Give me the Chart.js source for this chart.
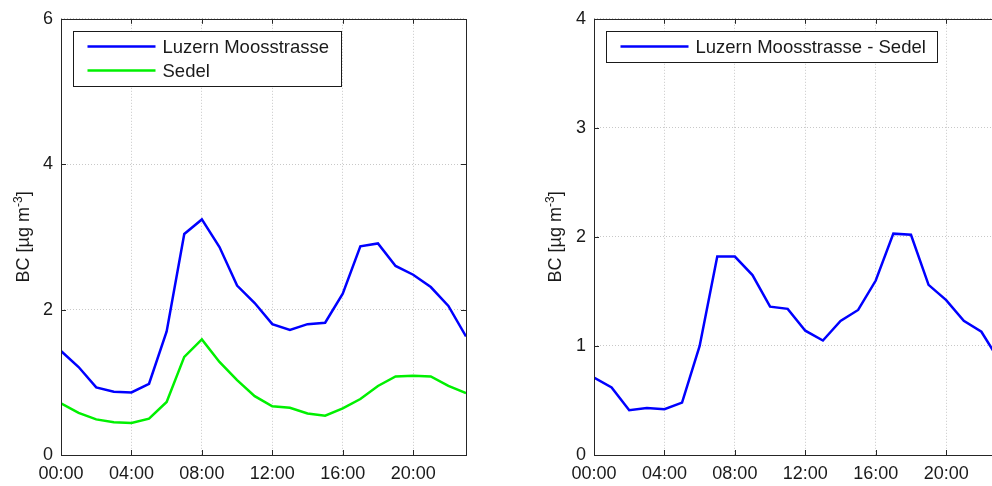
<!DOCTYPE html>
<html>
<head>
<meta charset="utf-8">
<script src="https://cdn.jsdelivr.net/npm/chart.js@4.4.1/dist/chart.umd.min.js"></script>
<style>
  html, body { margin: 0; padding: 0; background: #fff; overflow: hidden; }
  body { width: 992px; height: 486px; position: relative; }
  canvas { position: absolute; top: 0; }
  #left { left: 0; }
  #right { left: 540px; }
</style>
</head>
<body>
<canvas id="left" width="480" height="486"></canvas>
<canvas id="right" width="480" height="486"></canvas>
<script>
// hour of day
const hours = [0, 1, 2, 3, 4, 5, 6, 7, 8, 9, 10, 11, 12, 13, 14, 15, 16, 17, 18, 19, 20, 21, 22, 23];
// mean diurnal BC, µg m-3
const luzern = [1.43, 1.21, 0.93, 0.87, 0.86, 0.98, 1.70, 3.04, 3.24, 2.86, 2.33, 2.09,
                1.80, 1.72, 1.80, 1.82, 2.22, 2.87, 2.91, 2.60, 2.48, 2.31, 2.05, 1.63];
const sedel = [0.71, 0.58, 0.49, 0.45, 0.44, 0.50, 0.73, 1.35, 1.59, 1.28, 1.03, 0.81,
               0.67, 0.65, 0.57, 0.54, 0.64, 0.77, 0.95, 1.08, 1.09, 1.08, 0.95, 0.85];
const diff = [0.71, 0.62, 0.41, 0.43, 0.42, 0.48, 1.00, 1.82, 1.82, 1.65, 1.36, 1.34,
              1.14, 1.05, 1.23, 1.33, 1.60, 2.03, 2.02, 1.56, 1.42, 1.23, 1.13, 0.87];

const FONT = '"Liberation Sans", Arial, sans-serif';
const TXT = '#1a1a1a';

function pts(vals) {
  return hours.map((h, i) => ({ x: h, y: vals[i] }));
}

function hh(v) {
  return String(v).padStart(2, '0') + ':00';
}

// box, inward ticks, legend and y title, drawn the matlab way
function framePlugin(titleX) {
  return {
    id: 'frame',
    afterDraw(chart) {
      const ctx = chart.ctx;
      const a = chart.chartArea;
      const xs = chart.scales.x, ys = chart.scales.y;
      ctx.save();
      ctx.strokeStyle = '#262626';
      ctx.lineWidth = 1;
      ctx.strokeRect(Math.round(a.left) + 0.5, Math.round(a.top) + 0.5,
                     Math.round(a.right - a.left), Math.round(a.bottom - a.top));
      // little ticks pointing in
      ctx.beginPath();
      xs.ticks.forEach(t => {
        const px = Math.round(xs.getPixelForValue(t.value)) + 0.5;
        ctx.moveTo(px, a.bottom); ctx.lineTo(px, a.bottom - 5);
        ctx.moveTo(px, a.top); ctx.lineTo(px, a.top + 5);
      });
      ys.ticks.forEach(t => {
        const py = Math.round(ys.getPixelForValue(t.value)) + 0.5;
        ctx.moveTo(a.left, py); ctx.lineTo(a.left + 5, py);
        ctx.moveTo(a.right, py); ctx.lineTo(a.right - 5, py);
      });
      ctx.stroke();

      // legend
      const sets = chart.data.datasets;
      ctx.font = '18.5px ' + FONT;
      const tw = Math.max(...sets.map(d => ctx.measureText(d.label).width));
      const bx = Math.round(a.left) + 12.5, by = Math.round(a.top) + 12.5;
      const bw = Math.round(89 + tw + 12), bh = sets.length * 24 + 7;
      ctx.fillStyle = '#fff';
      ctx.fillRect(bx, by, bw, bh);
      ctx.strokeStyle = '#1a1a1a';
      ctx.strokeRect(bx, by, bw, bh);
      ctx.textBaseline = 'middle';
      sets.forEach((d, i) => {
        const cy = by + 15 + i * 24;
        ctx.strokeStyle = d.borderColor;
        ctx.lineWidth = 2.5;
        ctx.beginPath();
        ctx.moveTo(bx + 14, cy); ctx.lineTo(bx + 82, cy);
        ctx.stroke();
        ctx.fillStyle = TXT;
        ctx.fillText(d.label, bx + 89, cy + 1);
      });

      // y title with superscript
      const main1 = 'BC [\u00b5g m', sup = '-3', main2 = ']';
      ctx.font = '18px ' + FONT;
      const w1 = ctx.measureText(main1).width, w3 = ctx.measureText(main2).width;
      ctx.font = '12px ' + FONT;
      const w2 = ctx.measureText(sup).width;
      const total = w1 + w2 + w3;
      ctx.translate(titleX, (a.top + a.bottom) / 2);
      ctx.rotate(-Math.PI / 2);
      ctx.fillStyle = TXT;
      ctx.textBaseline = 'alphabetic';
      let x0 = -total / 2;
      ctx.font = '18px ' + FONT;
      ctx.fillText(main1, x0, 6);
      ctx.font = '12px ' + FONT;
      ctx.fillText(sup, x0 + w1, -1);
      ctx.font = '18px ' + FONT;
      ctx.fillText(main2, x0 + w1 + w2, 6);
      ctx.restore();
    }
  };
}

function makePanel(id, datasets, yMax, yStep, axisW, padRight, titleX) {
  return new Chart(document.getElementById(id), {
    type: 'line',
    data: { datasets },
    plugins: [framePlugin(titleX)],
    options: {
      responsive: false,
      animation: false,
      layout: { padding: { top: 17, right: padRight, bottom: 0, left: 0 } },
      plugins: { legend: { display: false }, tooltip: { enabled: false } },
      elements: { point: { radius: 0 }, line: { tension: 0, borderWidth: 2.5 } },
      scales: {
        x: {
          type: 'linear', min: 0, max: 23,
          grid: { color: '#c8c8c8', drawTicks: false },
          border: { display: false, dash: [1, 2] },
          ticks: { stepSize: 4, includeBounds: false, padding: 8, maxRotation: 0,
                   color: TXT, font: { family: FONT, size: 18 }, callback: v => hh(v) },
          afterFit: s => { s.height = 31; }
        },
        y: {
          min: 0, max: yMax,
          grid: { color: '#c8c8c8', drawTicks: false },
          border: { display: false, dash: [1, 2] },
          ticks: { stepSize: yStep, padding: 8, color: TXT, font: { family: FONT, size: 18 } },
          afterFit: s => { s.width = axisW; }
        }
      }
    }
  });
}

makePanel('left', [
  { label: 'Luzern Moosstrasse', data: pts(luzern), borderColor: '#0000ff' },
  { label: 'Sedel', data: pts(sedel), borderColor: '#00f000' }
], 6, 2, 61, 14, 23);

makePanel('right', [
  { label: 'Luzern Moosstrasse - Sedel', data: pts(diff), borderColor: '#0000ff' }
], 4, 1, 54, 21, 15);
</script>
</body>
</html>
